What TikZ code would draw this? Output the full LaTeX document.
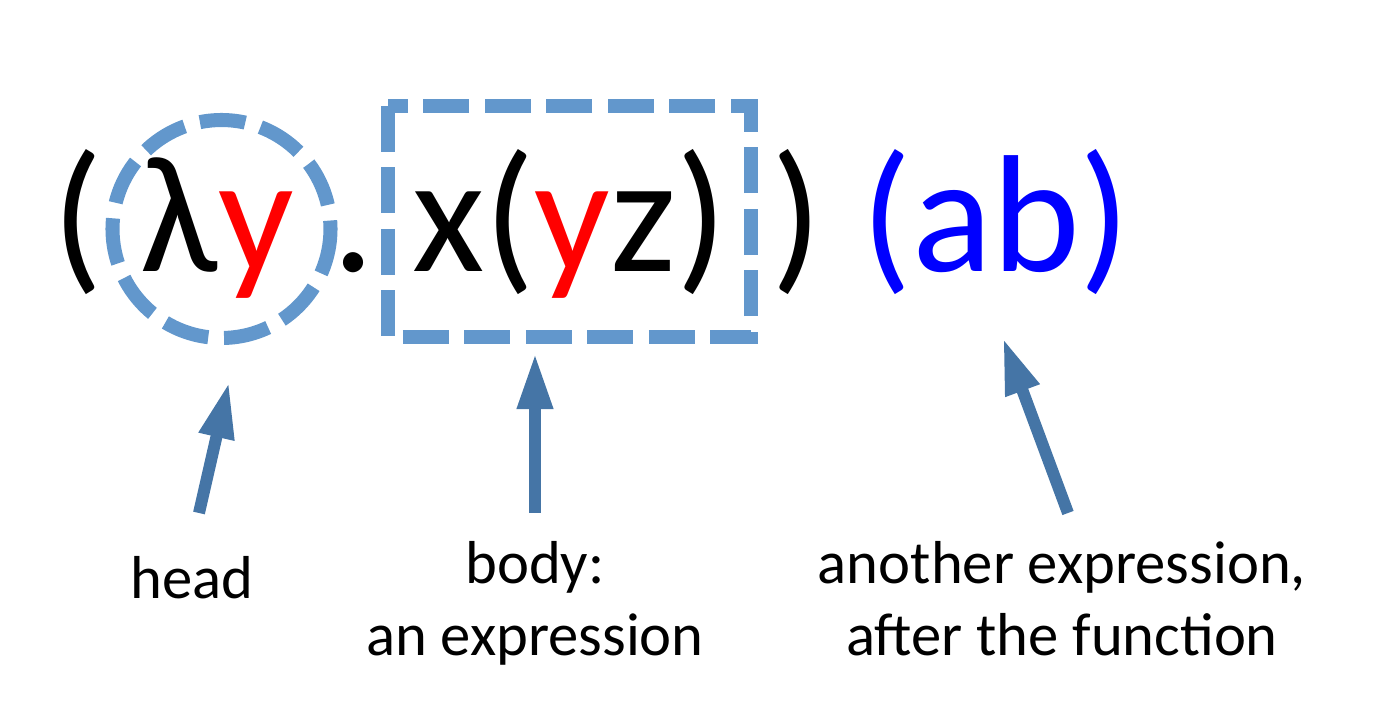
\documentclass[tikz,border=0pt]{standalone}
\usepackage{fontspec}
\setmainfont{Carlito}
\usetikzlibrary{arrows.meta}
\definecolor{ringblue}{RGB}{98,151,204}
\definecolor{arrowblue}{RGB}{69,117,166}
\tikzset{
  bigterm/.style={inner sep=0pt,anchor=base,font=\fontsize{95}{100}\selectfont},
  caption/.style={inner sep=0pt,anchor=base,align=center,font=\fontsize{34.5}{40.8}\selectfont},
  marker/.style={draw=ringblue,line width=8pt,dash pattern=on 26pt off 9pt},
  pointer/.style={draw=arrowblue,line width=6.8pt,-{Triangle[length=32pt,width=19pt]}}
}
\begin{document}
\begin{tikzpicture}[x=0.02cm,y=-0.02cm]
        \useasboundingbox (0,0) rectangle (1374,726);

        \draw (77.5,272) node (lparen) [bigterm] {(};
        \draw (179.5,272) node (lam) [bigterm] {λ};
        \draw (256,272) node (var) [bigterm,text=red] {y};
        \draw (354,272) node (dot) [bigterm] {.};
        \draw (569.5,272) node (body) [bigterm] {x({\color{red}y}z)};
        \draw (796.5,272) node (rparen) [bigterm] {)};
        \draw (996,272) node (arg) [bigterm,text=blue] {(ab)};

        \draw [marker] (221.5,229) circle (109);
        \draw [marker] (388,106) rectangle (751,337);

        % captions: base anchor sits on the last line
        \draw (192,598) node (headlbl) [caption] {head};
        \draw (535,655) node (bodylbl) [caption] {body:\\an expression};
        \draw (1062,655) node (arglbl) [caption] {another expression,\\after the function};

        \coordinate (headtail) at (199,513);
        \coordinate (headtip) at (229,382);
        \coordinate (bodytail) at (535,513);
        \coordinate (bodytip) at (535,353);
        \coordinate (argtail) at (1068,513);
        \coordinate (argtip) at (1003,338);

        \draw [pointer] (headtail) to (headtip);
        \draw [pointer] (bodytail) to (bodytip);
        \draw [pointer] (argtail) to (argtip);
\end{tikzpicture}
\end{document}
